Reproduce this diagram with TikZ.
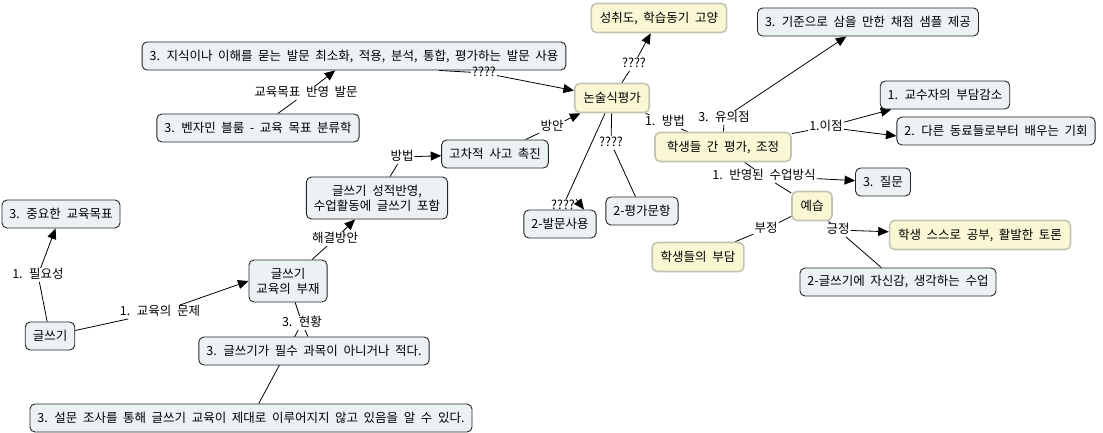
\documentclass[tikz,border=0pt]{standalone}
\usepackage{fontspec}
\setmainfont{Noto Sans CJK KR}[WordSpace=2.0]
\usetikzlibrary{arrows.meta,backgrounds}
\definecolor{boxblue}{RGB}{236,241,244}
\definecolor{boxyellow}{RGB}{250,247,212}
\definecolor{yborder}{RGB}{196,196,180}
\begin{document}
\begin{tikzpicture}[x=1pt,y=-1pt,
  base/.style={font=\fontsize{12.5}{15}\selectfont, text=black},
  cbox/.style={base, draw=black!85, line width=0.9pt, fill=boxblue, rounded corners=5pt, inner xsep=7.5pt, inner ysep=3pt, minimum height=28pt},
  ybox/.style={base, draw=yborder, line width=1.6pt, fill=boxyellow, rounded corners=5pt, inner xsep=8.5pt, inner ysep=3pt, minimum height=29pt},
  lbl/.style={base, inner sep=1pt, text height=9pt, text depth=2.5pt},
  conn/.style={draw=black, line width=0.8pt},
  arr/.style={conn, -{Triangle[length=10.5pt,width=9pt]}}]
\useasboundingbox (0,0) rectangle (1103,433);
% concepts
\node[ybox] (n1) at (659,18) {성취도, 학습동기 고양};
\node[cbox] (n2) at (868,22) {3. 기준으로 삼을 만한 채점 샘플 제공};
\node[cbox] (n3) at (354,56) {3. 지식이나 이해를 묻는 발문 최소화, 적용, 분석, 통합, 평가하는 발문 사용};
\node[ybox] (n4) at (612,98) {논술식평가};
\node[cbox] (n5) at (945,95) {1. 교수자의 부담감소};
\node[cbox] (n6) at (996,131) {2. 다른 동료들로부터 배우는 기회};
\node[cbox] (n7) at (258,128) {3. 벤자민 블룸 - 교육 목표 분류학};
\node[cbox] (n8) at (495,154) {고차적 사고 촉진};
\node[ybox, minimum width=136pt] (n9) at (723,147) {학생들 간 평가, 조정};
\node[cbox, minimum height=42pt, align=center] (n10) at (377,198) {글쓰기 성적반영,\\수업활동에 글쓰기 포함};
\node[cbox] (n11) at (61,214) {3. 중요한 교육목표};
\node[cbox] (n12) at (883,182) {3. 질문};
\node[cbox] (n13) at (560,224) {2-발문사용};
\node[cbox] (n14) at (642,211) {2-평가문항};
\node[ybox] (n15) at (812,206) {예습};
\node[ybox] (n16) at (980,235) {학생 스스로 공부, 활발한 토론};
\node[ybox] (n17) at (698,257) {학생들의 부담};
\node[cbox, minimum height=42pt, align=center] (n18) at (288,281) {글쓰기\\교육의 부재};
\node[cbox] (n19) at (898,282) {2-글쓰기에 자신감, 생각하는 수업};
\node[cbox] (n20) at (50,336) {글쓰기};
\node[cbox] (n21) at (314,351) {3. 글쓰기가 필수 과목이 아니거나 적다.};
\node[cbox] (n22) at (251,418) {3. 설문 조사를 통해 글쓰기 교육이 제대로 이루어지지 않고 있음을 알 수 있다.};
% linking phrases
\node[lbl] (l1) at (38,275) {1. 필요성};
\node[lbl] (l2) at (160,312) {1. 교육의 문제};
\node[lbl] (l3) at (335,239) {해결방안};
\node[lbl] (l4) at (302,323) {3. 현황};
\node[lbl] (l5) at (402,157) {방법};
\node[lbl] (l6) at (552,127) {방안};
\node[lbl] (l7) at (306,93) {교육목표 반영 발문};
\node[lbl] (l8) at (484,73) {????};
\node[lbl] (l9) at (634,64) {????};
\node[lbl] (l10) at (563,206) {????};
\node[lbl] (l11) at (611,143) {????};
\node[lbl] (l12) at (665,122) {1. 방법};
\node[lbl] (l13) at (724,118) {3. 유의점};
\node[lbl] (l14) at (826,127) {1.이점};
\node[lbl] (l15) at (764,176) {1. 반영된 수업방식};
\node[lbl] (l16) at (766,229) {부정};
\node[lbl] (l17) at (838,230) {긍정};
% connectors
\begin{pgfonlayer}{background}
\fill[white] (0,0) rectangle (1103,433);
\draw[conn] (n20) -- (l1); \draw[arr] (l1) -- (n11);
\draw[conn] (n20) -- (l2); \draw[arr] (l2) -- (n18.west);
\draw[conn] (n18) -- (l3); \draw[arr] (l3) -- (n10);
\draw[conn] (n18) -- (l4); \draw[conn] (l4) -- (n21); \draw[conn] (l4) -- (n22);
\draw[conn] (n10) -- (l5); \draw[arr] (l5) -- (n8);
\draw[conn] (n8) -- (l6); \draw[arr] (l6) -- (n4);
\draw[conn] (n7) -- (l7); \draw[arr] (l7) -- (n3);
\draw[conn] ([xshift=85pt]n3.south) -- (l8); \draw[arr] (l8) -- (n4);
\draw[conn] (n4) -- (l9); \draw[arr] (l9) -- (n1);
\draw[conn] (n4) -- (l10); \draw[arr] (l10.north east) -- ([xshift=24pt]n13.north);
\draw[conn] (n4) -- (l11); \draw[conn] (l11) -- (n14);
\draw[conn] (n4) -- (l12); \draw[conn] (l12) -- (n9);
\draw[conn] (n9) -- (l13); \draw[arr] (l13) -- (n2);
\draw[conn] (n9) -- (l14); \draw[arr] (l14) -- (n5); \draw[arr] (l14) -- ([yshift=-5pt]n6.west);
\draw[conn] (n9) -- (l15); \draw[arr] (l15) -- (n12); \draw[conn] (l15) -- (n15);
\draw[conn] (n15) -- (l16); \draw[conn] (l16) -- (n17);
\draw[conn] (n15) -- (l17); \draw[arr] (l17) -- (n16); \draw[conn] (l17) -- (n19);
\end{pgfonlayer}
\end{tikzpicture}
\end{document}
